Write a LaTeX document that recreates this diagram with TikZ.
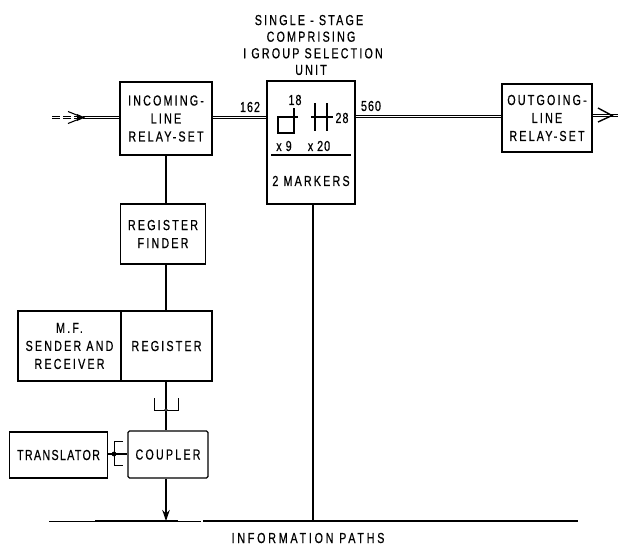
\documentclass[tikz,border=0pt]{standalone}
\usepackage{fontspec}
\setmainfont[LetterSpace=15,FakeStretch=0.74,FakeBold=0.6]{Liberation Sans}
\newfontfamily\infofont[LetterSpace=19,FakeStretch=0.74,FakeBold=0.6]{Liberation Sans}
\newfontfamily\transfont[LetterSpace=9,FakeStretch=0.74,FakeBold=0.6]{Liberation Sans}
\newfontfamily\numfont[LetterSpace=7,FakeStretch=0.74,FakeBold=0.6]{Liberation Sans}
\usetikzlibrary{arrows.meta}
\tikzset{
  box/.style={draw,line width=1.3pt,align=center,inner sep=0pt,font=\fontsize{14.5}{18}\selectfont},
  lbl/.style={inner sep=0pt,align=center,font=\fontsize{14.5}{16.6}\selectfont},
  num/.style={inner sep=0pt,align=center,font=\fontsize{14.5}{16.6}\numfont},
  wire/.style={line width=1.2pt},
  thin wire/.style={line width=1pt},
  dbl/.style={line width=1.1pt,double,double distance=1.6pt},
  sym/.style={line width=1.1pt}
}
\begin{document}
\begin{tikzpicture}[x=1pt,y=-1pt]
\useasboundingbox (0,0) rectangle (618,547);
% boxes
\node[box,minimum width=92pt,minimum height=73pt] (inc) at (166,118.5) {INCOMING-\\LINE\\RELAY-SET};
\node[box,minimum width=88pt,minimum height=123pt] (cen) at (311,142.5) {};
\node[box,minimum width=90pt,minimum height=68pt] (out) at (547,118) {OUTGOING-\\LINE\\RELAY-SET};
\node[box,minimum width=85pt,minimum height=60pt] (fin) at (163,234) {REGISTER\\FINDER};
\node[box,minimum width=103pt,minimum height=70pt] (mf) at (69.5,346) {M.F.\\SENDER AND\\RECEIVER};
\node[box,minimum width=91pt,minimum height=70pt] (reg) at (166.5,346) {REGISTER};
\node[box,minimum width=80pt,minimum height=47pt,rounded corners=1.5pt] (cou) at (168,454.5) {COUPLER};
\node[box,minimum width=98pt,minimum height=46pt,font=\fontsize{14.5}{18}\transfont] (tra) at (58.5,455) {TRANSLATOR};
% central box contents
\node[lbl] (title) at (311,45) {SINGLE - STAGE\hspace*{4pt}\\COMPRISING\\\hspace*{4pt}I GROUP SELECTION\\UNIT};
\node[num] (n18) at (295,100) {18};
\node[num] (n28) at (342,118) {28};
\node[num] (x9) at (284,146) {x 9};
\node[num] (x20) at (319,146) {x 20};
\node[lbl] (mk) at (311,181) {2 MARKERS};
\node[num] (n162) at (250,107) {162};
\node[num] (n560) at (371,106) {560};
\node[lbl,font=\fontsize{14.5}{16.6}\infofont] (info) at (308,538) {INFORMATION PATHS};
\draw[sym] (271,155) -- (351,155);
\draw[sym] (294,108) -- (294,133) -- (278,133) -- (278,117) -- (298,117);
\draw[sym] (315,103) -- (315,131);
\draw[sym] (327,103) -- (327,131);
\draw[sym] (311,117) -- (333,117);
% double lines
\coordinate (inL) at (52,117.5);
\coordinate (inT) at (83,117.5);
\coordinate (outR) at (618,115.5);
\coordinate (outT) at (612,115.5);
\draw[line width=1.1pt,dash pattern=on 8pt off 3pt] (inL) ++(0,-1.4) -- ++(30,0);
\draw[line width=1.1pt,dash pattern=on 8pt off 3pt] (inL) ++(0,1.4) -- ++(30,0);
\draw[dbl] (inT) -- (inc.west |- inT);
\draw[dbl] (inc.east |- inT) -- (cen.west |- inT);
\draw[dbl] (cen.east |- 0,116.5) -- (out.west |- 0,116.5);
\draw[dbl] (out.east |- outR) -- (outR);
\draw[sym] (68,111.5) -- (inT) -- (68,123.5);
\fill (inT) ++(2,0) -- ++(-8,-3.5) -- ++(0,7) -- cycle;
\draw[line width=1.4pt] (598,108) -- (outT) -- (598,122);
% verticals
\draw[wire] (inc.south) -- (inc.south |- fin.north);
\draw[wire] (inc.south |- fin.south) -- (inc.south |- reg.north);
\draw[wire] (inc.south |- reg.south) -- (inc.south |- cou.north);
% fork above coupler
\coordinate (fk) at (166,410);
\draw[thin wire] (154,398) -- (154,410) -- (178,410) -- (178,398);
\draw[fill=white,line width=.7pt] (fk) circle (1.4pt);
% coupler to bus
\coordinate (busL) at (49,521);
\coordinate (busM) at (201,521);
\coordinate (busN) at (203,521);
\coordinate (busR) at (578,521);
\draw[wire,-{Stealth[length=11pt,width=7.5pt]}] (inc.south |- cou.south) -- (inc.south |- busL);
\draw[line width=1pt] (busL) -- (busM);
\draw[line width=2pt] (95,521) -- (178,521);
\draw[line width=1.6pt] (busN) -- (busR);
\draw[wire] ([xshift=2pt]cen.south) -- ([xshift=2pt]cen.south |- busN);
% translator link
\coordinate (tk) at (114,454);
\draw[wire] (tra.east |- tk) -- (cou.west |- tk);
\draw[thin wire] (123,441) -- (114,441) -- (114,465) -- (123,465);
\fill (tk) circle (2.4pt);
\end{tikzpicture}
\end{document}
